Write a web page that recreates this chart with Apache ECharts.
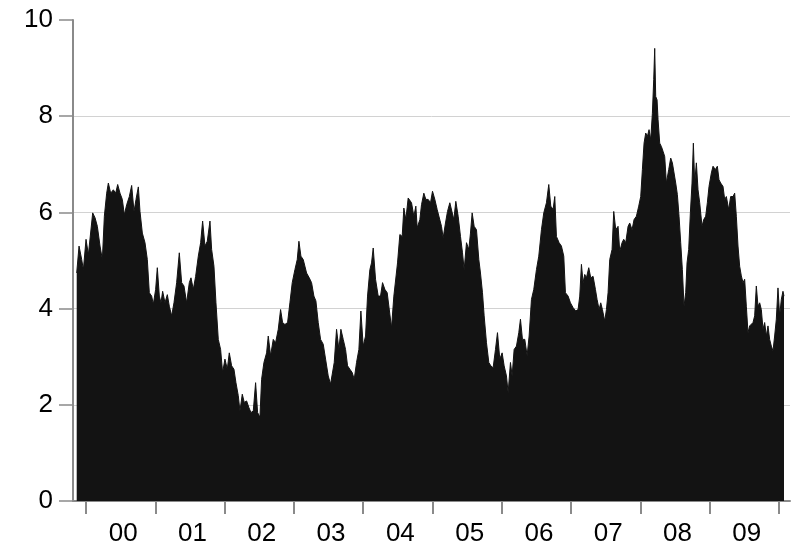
<!DOCTYPE html>
<html>
<head>
<meta charset="utf-8">
<script src="https://cdn.jsdelivr.net/npm/echarts@6/dist/echarts.min.js"></script>
<style>
html,body{margin:0;padding:0;background:#fff;}
#chart{width:793px;height:547px;}
</style>
</head>
<body>
<div id="chart"></div>
<script>
// Period index: weeks since 1 Jan 2000 (52 per year)
const weeks = [
-7,-5.25,-3.25,-2,0,1.75,3,5,6.75,8.5,10.5,12.25,13.75,15.5,16.75,18.5,20.5,22.25,23.75,25.5,
27.25,28.75,30.5,32.5,34.25,36,37.5,39.25,40.5,42.25,44.25,46,47.5,49.25,50.5,52.25,53.5,55,56.25,57.5,
59.25,61,62.5,64.25,66,68,70,71.75,73.5,75.5,77.5,78.75,80.5,82.25,84.25,86,87.5,89.25,91,93,
94.25,96,97.5,99.25,101,102.5,104.25,106,107.5,109.25,111,112.5,114.25,115.5,117.25,118.75,120.5,122.25,123.75,125.5,
127.25,128.75,130.5,131.75,133.5,135.5,136.75,138.5,140.5,142.25,144.25,146,147.5,149.25,151.25,153,154.75,156.75,158.5,159.75,
161.25,163,165.5,167.5,169.25,171,172.5,174.25,176,178,179.75,181.75,183.5,184.75,186.25,188,189.75,191.25,193,194.75,
196.25,198,199.75,201.25,203,204.75,206.25,208,209.75,211.25,213,214.25,215.5,217.25,219.25,221,222.5,224.25,226,227.5,
229.25,231,232.5,233.75,235.5,237.25,238.5,240,241.75,243,244.25,246,247.5,248.5,250.5,251.75,253.5,255,256.75,258.5,
260,261.75,263.5,265,266.75,268,269.75,271.25,273,274.25,276,277.5,279.25,281,282.5,283.75,285.5,287.25,288.5,289.75,
291.25,293,294.75,296,297.5,298.75,300.5,302.25,303.75,305.5,307.25,308.75,310.5,312.25,313.75,315.5,316.75,318.5,319.75,321.25,
323,324.75,326,327.5,329.25,331,332.5,334.25,336,338,339.75,341.75,343.5,345.5,347.25,348.75,350.5,351.75,353,355,
356.75,358.5,359.75,361.75,363.5,365.5,367.5,369.25,370.5,371.75,373,374.25,375.5,377.25,378.75,380.5,382.25,383.5,385,386.25,
387.5,389.25,390.5,391.75,393,394.75,396,397.5,399.25,400.5,402.25,403.5,405,406.75,408,409.75,411.25,413,414.75,416.25,
417.5,418.75,420,421.25,422.5,423.75,425,426,426.75,427.5,428.5,429.25,430.5,431.75,433,434.25,435.5,437.25,438.75,440,
441.25,442.5,443.75,445,446.25,447.5,448.75,450,451,452.25,453.5,454.75,455.75,456.75,458,459.25,460.5,462.25,463.5,465,
466.25,467.5,469.25,470.5,472.25,473.75,475,476.25,478,479.25,480.5,482.25,483.75,485.5,486.75,488,489.25,490.5,491.75,493,
494.25,495.5,496.75,498,499.25,500.5,501.75,503,504.25,505.5,506.75,508,509.25,510.5,511.75,513,514.25,515.5,516.75,518,
519.25,520.5,521.75,523,523.75
];
const values = [
4.74,5.30,5.02,4.81,5.44,5.12,5.16,5.99,5.89,5.71,5.30,5.02,5.92,6.40,6.61,6.40,6.47,6.40,6.58,6.40,
6.27,5.95,6.16,6.33,6.56,6.02,6.27,6.53,6.02,5.57,5.37,5.02,4.33,4.26,4.09,4.40,4.85,4.26,4.12,4.36,
4.12,4.29,4.05,3.85,4.12,4.54,5.16,4.54,4.47,4.12,4.54,4.64,4.40,4.67,5.09,5.37,5.82,5.30,5.40,5.82,
5.23,4.88,4.12,3.36,3.15,2.67,2.95,2.74,3.08,2.81,2.74,2.46,2.19,1.87,2.22,2.05,2.08,1.94,1.84,1.87,
2.46,1.84,1.74,2.53,2.88,3.08,3.43,3.02,3.36,3.29,3.57,3.98,3.71,3.67,3.71,4.12,4.54,4.81,5.02,5.40,
5.09,5.02,4.74,4.64,4.54,4.26,4.16,3.71,3.36,3.26,2.95,2.60,2.43,2.39,2.88,3.57,3.15,3.57,3.36,3.15,
2.81,2.74,2.67,2.53,2.88,3.15,3.95,3.22,3.43,4.26,4.81,4.95,5.26,4.61,4.26,4.26,4.54,4.40,4.33,4.33,
3.60,4.26,4.26,4.95,5.54,5.50,6.09,5.85,6.30,6.33,6.20,5.92,6.13,5.68,5.85,6.16,6.40,6.27,6.27,6.20,
6.44,6.27,6.06,6.09,5.71,5.47,5.78,6.02,6.20,6.23,5.85,6.23,5.92,5.50,5.16,4.81,5.37,5.23,5.57,5.99,
5.71,5.64,5.02,4.74,4.33,3.85,3.29,2.88,2.81,2.77,3.15,3.50,2.95,3.08,2.81,2.60,2.25,2.88,2.60,3.15,
3.22,3.50,3.78,3.36,3.36,3.02,3.43,4.19,4.40,4.81,5.09,5.64,5.99,6.20,6.58,6.13,6.06,6.33,5.50,5.37,
5.30,5.09,4.33,4.26,4.12,4.02,3.95,3.98,4.26,4.92,4.54,4.71,4.64,4.85,4.64,4.67,4.40,4.19,3.98,4.12,
3.98,3.74,3.98,4.33,5.02,5.23,6.02,5.64,5.71,5.19,5.37,5.44,5.37,5.71,5.78,5.64,5.85,5.92,6.13,6.33,
6.89,7.44,7.65,7.58,7.72,7.51,8.06,8.76,9.41,8.41,8.34,7.93,7.44,7.37,7.27,7.16,6.61,6.89,7.13,7.03,
7.03,6.61,6.37,5.92,5.37,4.81,4.05,4.33,4.95,5.23,5.99,6.61,7.44,6.61,7.03,6.47,6.20,5.71,5.85,5.92,
6.20,6.54,6.82,6.96,6.89,6.96,6.68,6.61,6.54,6.27,6.33,6.06,6.33,6.33,6.40,5.92,5.30,4.88,4.68,4.54,
4.61,4.05,3.50,3.64,3.64,3.71,3.85,4.47,4.05,4.12,3.98,3.57,3.71,3.43,3.64,3.36,3.22,3.12,3.43,3.78,
4.43,3.85,4.19,4.36,4.26
];
const yearTicks = [2000,2001,2002,2003,2004,2005,2006,2007,2008,2009,2010];
const yearLabels = ['00','01','02','03','04','05','06','07','08','09'];
const yTicks = [0,2,4,6,8,10];

const labelPos = yearLabels.map((_, i) => yearTicks[i] + 0.5);
const seriesData = weeks.map((w, i) => [2000 + w / 52, values[i]]);

const chart = echarts.init(document.getElementById('chart'), null, {renderer: 'canvas'});
const font = 'Liberation Sans, Arial, sans-serif';
chart.setOption({
  animation: false,
  backgroundColor: '#ffffff',
  grid: {left: 73, right: 3, top: 20, bottom: 45, containLabel: false},
  xAxis: {
    type: 'value',
    min: 1999.812,
    max: 2010.159,
    axisLine: {show: true, onZero: false, lineStyle: {color: '#8a8a8a', width: 2}},
    axisTick: {show: true, customValues: yearTicks, length: 13, lineStyle: {color: '#8a8a8a', width: 2}},
    axisLabel: {
      show: true,
      customValues: labelPos,
      formatter: v => yearLabels[Math.round(v - 2000.5)] || '',
      fontSize: 26, color: '#000', margin: 20, fontFamily: font,
      padding: [0, 0, 0, 5]
    },
    splitLine: {show: false}
  },
  yAxis: {
    type: 'value',
    min: yTicks[0],
    max: yTicks[yTicks.length - 1],
    interval: 2,
    axisLine: {show: true, lineStyle: {color: '#8a8a8a', width: 2}},
    axisTick: {show: true, length: 14, lineStyle: {color: '#8a8a8a', width: 1.5}},
    axisLabel: {fontSize: 26, color: '#000', margin: 20, fontFamily: font},
    splitLine: {show: true, showMinLine: false, showMaxLine: false, lineStyle: {color: '#d2d2d2', width: 1}}
  },
  series: [{
    type: 'line',
    data: seriesData,
    symbol: 'none',
    smooth: false,
    lineStyle: {color: '#131313', width: 1},
    areaStyle: {color: '#131313', opacity: 1},
    z: 3
  }]
});
</script>
</body>
</html>
